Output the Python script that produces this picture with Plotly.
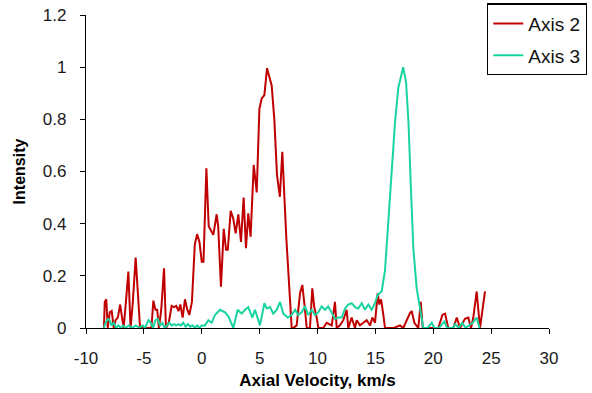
import plotly.graph_objects as go

# Axis 2 (red) vertices
axis2_x = [-8.45, -8.38, -8.25, -8.12, -7.95, -7.78, -7.6, -7.45, -7.25, -7.05, -6.92, -6.75,
           -6.55, -6.34, -6.15, -5.97, -5.71, -5.33, -5.1, -4.85, -4.6, -4.35, -4.18, -4.0,
           -3.85, -3.7, -3.5, -3.26, -3.09, -2.85, -2.6, -2.4, -2.2, -2.0, -1.85, -1.65,
           -1.45, -1.25, -1.07, -0.85, -0.6, -0.4, -0.2, 0.0, 0.15, 0.4, 0.6, 0.85, 1.0,
           1.29, 1.42, 1.66, 1.9, 2.1, 2.25, 2.5, 2.72, 2.93, 3.16, 3.39, 3.62, 3.82, 4.02,
           4.22, 4.49, 4.75, 4.98, 5.18, 5.41, 5.64, 6.04, 6.27, 6.5, 6.75, 6.96, 7.3, 7.77,
           7.91, 8.2, 8.49, 8.69, 8.92, 9.07, 9.35, 9.55, 9.72, 9.93, 10.07, 10.5, 10.79,
           11.23, 11.51, 11.66, 11.94, 12.23, 12.52, 12.66, 12.95, 13.24, 13.39, 13.67,
           13.96, 14.25, 14.54, 14.74, 14.97, 15.2, 15.34, 15.49, 15.69, 15.83, 16.12,
           16.6, 17.13, 17.41, 17.99, 18.14, 18.37, 18.71, 18.92, 19.09, 19.6, 20.1, 20.44,
           20.79, 21.02, 21.3, 21.73, 22.03, 22.31, 22.74, 23.03, 23.26, 23.46, 23.75,
           24.04, 24.47]
axis2_y = [0.0, 0.10, 0.11, 0.0, 0.06, 0.065, 0.0, 0.03, 0.04, 0.09, 0.05, 0.0,
           0.10, 0.216, 0.0, 0.09, 0.27, 0.0, 0.0, 0.0, 0.0, 0.0, 0.105, 0.07,
           0.07, 0.0, 0.07, 0.229, 0.0, 0.02, 0.085, 0.08, 0.085, 0.065, 0.09, 0.04,
           0.11, 0.07, 0.05, 0.10, 0.32, 0.36, 0.33, 0.254, 0.254, 0.612, 0.39, 0.37, 0.357,
           0.436, 0.39, 0.158, 0.38, 0.30, 0.30, 0.449, 0.42, 0.363, 0.436, 0.33, 0.50, 0.306, 0.44,
           0.35, 0.625, 0.52, 0.84, 0.88, 0.893, 0.996, 0.93, 0.80, 0.587, 0.503, 0.676, 0.35, 0.0,
           0.0, 0.01, 0.133, 0.165, 0.07, 0.0, 0.0, 0.152, 0.08, 0.04, 0.0, 0.0, 0.02,
           0.01, 0.10, 0.0, 0.01, 0.03, 0.07, 0.0, 0.04, 0.0, 0.03, 0.01,
           0.02, 0.03, 0.01, 0.04, 0.02, 0.133, 0.09, 0.11, 0.05, 0.0, 0.0,
           0.0, 0.01, 0.0, 0.057, 0.065, 0.02, 0.0, 0.10, 0.0, 0.0, 0.0, 0.0,
           0.05, 0.055, 0.0, 0.0, 0.04, 0.0, 0.035, 0.04, 0.0, 0.04, 0.14,
           0.0, 0.14]

# Axis 3 (teal) vertices
axis3_x = [-8.45, -8.3, -8.1, -7.95, -7.8, -7.6, -7.4, -7.2, -7.0, -6.8, -6.6, -6.3, -6.0,
           -5.7, -5.4, -5.1, -4.9, -4.6, -4.4, -4.2, -4.0, -3.8, -3.6, -3.4, -3.2, -3.0,
           -2.8, -2.6, -2.4, -2.2, -2.0, -1.8, -1.6, -1.4, -1.2, -1.0, -0.8, -0.6, -0.4,
           -0.2, 0.0, 0.28, 0.57, 0.86, 1.14, 1.58, 2.01, 2.3, 2.73, 3.1, 3.45, 3.74, 4.02,
           4.37, 4.6, 5.03, 5.41, 5.61, 5.9, 6.18, 6.48, 6.76, 7.05, 7.43, 7.77, 8.06, 8.34,
           8.63, 8.92, 9.2, 9.5, 9.78, 10.07, 10.36, 10.65, 10.93, 11.23, 11.51, 11.8, 12.09,
           12.38, 12.66, 12.95, 13.24, 13.52, 13.82, 14.1, 14.39, 14.68, 14.97, 15.2, 15.54,
           15.83, 16.1, 16.4, 16.7, 16.98, 17.2, 17.4, 17.65, 17.86, 18.05, 18.28, 18.57,
           18.85, 19.14, 19.5, 19.87, 20.1, 20.5, 20.96, 21.2, 21.7, 21.9, 22.2, 22.5, 22.8,
           23.1, 23.4, 23.75, 24.0]
axis3_y = [0.0, 0.02, 0.035, 0.03, 0.01, 0.02, 0.0, 0.01, 0.0, 0.01, 0.0, 0.01, 0.0,
           0.01, 0.0, 0.01, 0.0, 0.03, 0.02, 0.0, 0.03, 0.035, 0.01, 0.02, 0.0, 0.01,
           0.02, 0.01, 0.015, 0.01, 0.015, 0.01, 0.02, 0.005, 0.015, 0.005, 0.01, 0.0, 0.01,
           0.0, 0.01, 0.01, 0.03, 0.02, 0.05, 0.07, 0.06, 0.045, 0.0, 0.07, 0.055, 0.07, 0.08,
           0.04, 0.07, 0.01, 0.095, 0.075, 0.08, 0.055, 0.07, 0.10, 0.055, 0.04, 0.05, 0.07, 0.05,
           0.06, 0.083, 0.05, 0.07, 0.05, 0.06, 0.083, 0.07, 0.083, 0.06, 0.035, 0.04, 0.04,
           0.075, 0.09, 0.095, 0.08, 0.075, 0.095, 0.07, 0.09, 0.07, 0.095, 0.127, 0.14,
           0.22, 0.40, 0.62, 0.79, 0.92, 0.96, 1.0, 0.944, 0.79, 0.56, 0.305, 0.152,
           0.07, 0.0, 0.0, 0.02, 0.0, 0.0, 0.025, 0.0, 0.0, 0.015, 0.0, 0.02, 0.0,
           0.01, 0.02, 0.04, 0.0]

x_ticks = [-10, -5, 0, 5, 10, 15, 20, 25, 30]
x_labels = ["-10", "-5", "0", "5", "10", "15", "20", "25", "30"]
y_ticks = [0, 0.2, 0.4, 0.6, 0.8, 1, 1.2]
y_labels = ["0", "0.2", "0.4", "0.6", "0.8", "1", "1.2"]

RED = "#C00000"
TEAL = "#19D3A0"
FONT = "Liberation Sans, Arial, sans-serif"

fig = go.Figure()
fig.add_trace(go.Scatter(x=axis2_x, y=axis2_y, mode="lines", name="Axis 2",
                         legendgroup="a", line=dict(color=RED, width=2)))
fig.add_trace(go.Scatter(x=axis3_x, y=axis3_y, mode="lines", name="Axis 3",
                         legendgroup="b", line=dict(color=TEAL, width=2)))

axis_common = dict(showline=True, linecolor="black", linewidth=1.3, ticks="outside",
                   ticklen=5, tickcolor="black", tickwidth=1.3, showgrid=False,
                   zeroline=False, automargin=False,
                   tickfont=dict(family=FONT, size=17, color="#1a1a1a"))

fig.update_layout(
    width=592, height=393,
    margin=dict(l=86, r=43, t=15, b=65, autoexpand=False),
    paper_bgcolor="white", plot_bgcolor="white",
    font=dict(family=FONT, color="black"),
    xaxis=dict(range=[-10, 30], tickvals=x_ticks, ticktext=x_labels, ticklabelstandoff=9,
               **axis_common,
               title=dict(text="<b>Axial Velocity, km/s</b>", standoff=7,
                          font=dict(family=FONT, size=17, color="black"))),
    yaxis=dict(range=[0, 1.2], tickvals=y_ticks, ticktext=y_labels, ticklabelstandoff=10,
               **axis_common,
               title=dict(text="<b>Intensity</b>", standoff=13,
                          font=dict(family=FONT, size=16, color="black"))),
    legend=dict(x=0.866, y=1.037, xanchor="left", yanchor="top",
                bordercolor="black", borderwidth=1.3, bgcolor="white",
                font=dict(family=FONT, size=19, color="#111"),
                traceorder="grouped", tracegroupgap=4),
    showlegend=True,
)

fig.write_html("out.html", config={"displayModeBar": False},
               post_script="document.body.style.margin='0';")
